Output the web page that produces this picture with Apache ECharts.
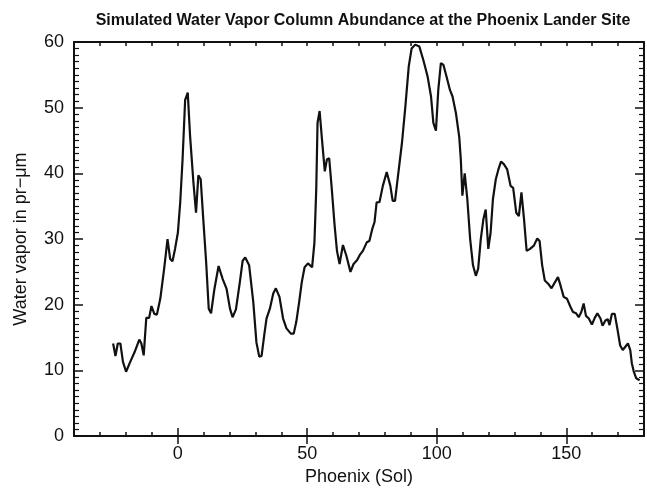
<!DOCTYPE html>
<html>
<head>
<meta charset="utf-8">
<script src="https://cdn.jsdelivr.net/npm/echarts@6/dist/echarts.min.js"></script>
<style>html,body{margin:0;padding:0;background:#fff;}#c{width:647px;height:491px;}</style>
</head>
<body>
<div id="c"></div>
<script>
const titleText = 'Simulated Water Vapor Column Abundance at the Phoenix Lander Site';
const xName = 'Phoenix (Sol)';
const yName = 'Water vapor in pr\u2212\u03bcm';
const xMajorTicks = [0, 50, 100, 150];
const sols = [-24.9, -24, -23.1, -22.1, -21.1, -19.9, -18.3, -16.6, -14.8, -14,
  -13.1, -12.1, -11, -10.1, -9, -8, -6.7, -5.2, -3.9, -2.9,
  -2, -1, 0.1, 1, 1.9, 2.9, 3.9, 4.8, 6.1, 7.1,
  8, 8.9, 9.9, 11, 12, 12.9, 14.2, 15.8, 17.4, 18.9,
  20.2, 21.2, 22.5, 24, 25.1, 26.1, 27.6, 29.2, 30.4, 31.5,
  32.4, 33.4, 34.3, 35.6, 36.9, 37.9, 39.3, 40.7, 42, 43.7,
  44.8, 45.8, 46.9, 47.9, 49, 50.3, 51.9, 52.8, 53.5, 54,
  54.8, 55.7, 56.8, 57.6, 58.5, 59.5, 60.6, 61.5, 62.5, 63.1,
  63.8, 65.1, 66.7, 67.9, 69.3, 70.2, 71.5, 73, 74, 75.1,
  76, 76.8, 77.9, 79.2, 80.7, 82.1, 83, 83.9, 85.2, 86.6,
  87.9, 89.2, 90.3, 91.7, 93.3, 94.8, 96.5, 97.8, 98.7, 99.7,
  100.6, 101.6, 102.6, 103.8, 105.1, 106.1, 107.4, 108.7, 109.3, 109.9,
  110.8, 111.8, 112.9, 114, 115.1, 116, 117, 118, 118.9, 119.9,
  120.8, 121.7, 122.8, 123.8, 124.8, 125.9, 127.2, 128.5, 129.5, 130.7,
  131.7, 132.7, 133.7, 134.7, 136, 137.5, 138.8, 139.7, 140.7, 141.7,
  143, 144.3, 145.6, 146.8, 147.8, 149, 150.3, 151.6, 152.6, 153.8,
  154.8, 155.8, 156.7, 157.6, 158.7, 159.9, 161, 162, 163.2, 164,
  165.1, 166, 166.7, 167.6, 168.7, 169.7, 170.8, 171.8, 172.8, 173.8,
  174.7, 175.3, 176, 177, 178.3];
const vapor = [14.1, 12.2, 14.1, 14.1, 11.3, 9.8, 11.3, 12.8, 14.7, 14.1,
  12.3, 18, 18, 19.8, 18.6, 18.5, 20.9, 25.5, 30, 27,
  26.6, 28.5, 31, 35.6, 42.1, 51.2, 52.3, 45.7, 38.6, 34,
  39.7, 39.1, 33, 26.5, 19.4, 18.7, 22.4, 25.9, 23.9, 22.4,
  19.4, 18.1, 19.3, 23.4, 26.7, 27.2, 26, 20.4, 14.3, 12.1,
  12.2, 15.3, 17.9, 19.4, 21.7, 22.5, 21.2, 17.9, 16.4, 15.6,
  15.6, 17.4, 20.4, 23.4, 25.7, 26.3, 25.7, 29.5, 37.6, 47.7,
  49.5, 45.2, 40.3, 42.1, 42.3, 37.6, 32, 28.2, 26.2, 26.1,
  29.1, 27.5, 25, 26.2, 26.8, 27.5, 28.2, 29.5, 29.7, 31.5,
  32.6, 35.6, 35.6, 38.1, 40.2, 38.1, 35.8, 35.8, 40.1, 44.7,
  50.2, 56.3, 59, 59.6, 59.3, 57.3, 54.7, 51.7, 47.7, 46.5,
  52.7, 56.8, 56.5, 54.7, 52.7, 51.7, 49.2, 45.5, 42.1, 36.6,
  40, 36.1, 30, 26, 24.4, 25.5, 30, 33, 34.5, 28.5,
  31, 36.1, 39.1, 40.6, 41.8, 41.4, 40.6, 38.1, 37.8, 34,
  33.5, 37.1, 33, 28.2, 28.5, 29, 30.1, 29.7, 26, 23.7,
  23.2, 22.5, 23.4, 24.2, 22.9, 21.2, 20.9, 19.7, 18.9, 18.7,
  18.1, 18.9, 20.2, 18.3, 17.9, 17, 18, 18.7, 17.9, 16.8,
  17.6, 17.8, 16.9, 18.6, 18.6, 16.4, 13.8, 13.1, 13.6, 14.1,
  13.1, 11.1, 9.9, 8.8, 8.5];

const FONT = 'Liberation Sans';
const INK = '#111';
const baseX = {
  type: 'value', min: -40, max: 180, interval: 10,
  splitLine: { show: false },
  axisLine: { show: true, onZero: false, lineStyle: { color: INK, width: 2 } }
};
const option = {
  animation: false,
  backgroundColor: '#fff',
  title: {
    text: titleText, left: 358, top: 8, textAlign: 'center',
    textStyle: { fontFamily: FONT, fontWeight: 'bold', fontSize: 16, color: INK }
  },
  grid: { left: 74, right: 3, top: 42, bottom: 53 },
  xAxis: [
    Object.assign({}, baseX, {
      position: 'bottom',
      name: xName, nameLocation: 'middle', nameGap: 31,
      nameTextStyle: { fontFamily: FONT, fontSize: 18, color: INK },
      axisTick: { inside: true, length: 4, lineStyle: { color: INK, width: 1.5 } },
      axisLabel: { customValues: xMajorTicks, margin: 9, fontFamily: FONT, fontSize: 18, color: INK }
    }),
    Object.assign({}, baseX, {
      position: 'bottom',
      axisLine: { show: false },
      axisTick: { inside: true, length: 8, customValues: xMajorTicks, lineStyle: { color: INK, width: 1.5 } },
      axisLabel: { show: false }
    }),
    Object.assign({}, baseX, {
      position: 'top',
      axisTick: { inside: true, length: 4, lineStyle: { color: INK, width: 1.5 } },
      axisLabel: { show: false }
    }),
    Object.assign({}, baseX, {
      position: 'top',
      axisLine: { show: false },
      axisTick: { inside: true, length: 8, customValues: xMajorTicks, lineStyle: { color: INK, width: 1.5 } },
      axisLabel: { show: false }
    })
  ],
  yAxis: [
    {
      type: 'value', min: 0, max: 60, interval: 10, position: 'left',
      name: yName, nameLocation: 'middle', nameGap: 44,
      nameTextStyle: { fontFamily: FONT, fontSize: 18, color: INK },
      splitLine: { show: false },
      axisLine: { show: true, onZero: false, lineStyle: { color: INK, width: 2 } },
      axisTick: { inside: true, length: 9, lineStyle: { color: INK, width: 1.5 } },
      minorTick: { show: true, splitNumber: 10, length: 5, lineStyle: { color: INK, width: 1.2 } },
      axisLabel: { margin: 10, fontFamily: FONT, fontSize: 18, color: INK }
    },
    {
      type: 'value', min: 0, max: 60, interval: 10, position: 'right',
      splitLine: { show: false },
      axisLine: { show: true, onZero: false, lineStyle: { color: INK, width: 2 } },
      axisTick: { inside: true, length: 9, lineStyle: { color: INK, width: 1.5 } },
      minorTick: { show: true, splitNumber: 10, length: 5, lineStyle: { color: INK, width: 1.2 } },
      axisLabel: { show: false }
    }
  ],
  series: [{
    type: 'line', xAxisIndex: 0, yAxisIndex: 0,
    data: sols.map((s, i) => [s, vapor[i]]),
    showSymbol: false, smooth: false,
    lineStyle: { color: INK, width: 2.2 }
  }]
};
echarts.init(document.getElementById('c')).setOption(option);
</script>
</body>
</html>
